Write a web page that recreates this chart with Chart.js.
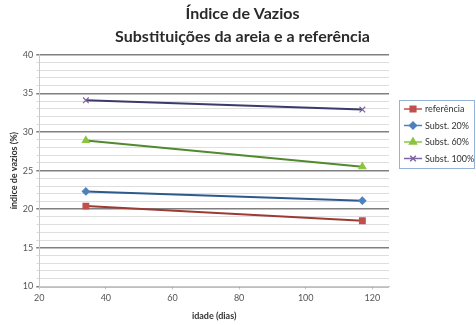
<!DOCTYPE html>
<html>
<head>
<meta charset="utf-8">
<script src="https://cdn.jsdelivr.net/npm/chart.js@4"></script>
<style>
  html, body { margin: 0; padding: 0; background: #fff; }
  #wrap { width: 476px; height: 325px; position: relative; }
</style>
</head>
<body>
<div id="wrap"><canvas id="myChart" width="476" height="325"></canvas></div>
<script>
// idade (dias) das medições
const idades = [34, 117]
// indice de vazios (%) por série
const referencia = [20.4, 18.5]
const subst20 = [22.3, 21.1]
const subst60 = [28.9, 25.5]
const subst100 = [34.1, 32.9]
const nomes = ['referência', 'Subst. 20%', 'Subst. 60%', 'Subst. 100%']
const xTicks = [20, 40, 60, 80, 100, 120]
const yTicks = [10, 15, 20, 25, 30, 35, 40]

const fonte = 'Lato, "Open Sans", sans-serif'

function pontos(valores) {
  return idades.map((x, i) => ({ x: x, y: valores[i] }))
}

const series = [
  { data: referencia, line: '#9a3c34', fill: '#c0504d', style: 'rect', r: 4 },
  { data: subst20, line: '#2c5a8c', fill: '#4f81bd', style: 'rectRot', r: 3.5 },
  { data: subst60, line: '#4f8a2c', fill: '#8cc43f', style: 'triangle', r: 4 },
  { data: subst100, line: '#3b3a6b', fill: '#8064a2', style: 'crossRot', r: 4 }
]

// legenda desenhada à mão (caixa à direita)
const legendaPlugin = {
  id: 'legenda',
  afterDraw(chart) {
    const ctx = chart.ctx
    ctx.save()
    ctx.strokeStyle = '#95b3d7'
    ctx.lineWidth = 1
    ctx.strokeRect(399.5, 100.5, 75, 68)
    ctx.font = '9px ' + fonte
    ctx.textBaseline = 'middle'
    series.forEach((s, i) => {
      const y = 109 + i * 16.5
      ctx.strokeStyle = s.fill
      ctx.fillStyle = s.fill
      ctx.lineWidth = 1.5
      ctx.beginPath()
      ctx.moveTo(404, y)
      ctx.lineTo(422, y)
      ctx.stroke()
      Chart.helpers.drawPoint(ctx, {
        pointStyle: s.style, radius: s.r, borderWidth: 1.2, rotation: 0
      }, 413, y)
      ctx.fillStyle = '#333'
      ctx.fillText(nomes[i], 425, y + 0.5)
    })
    ctx.restore()
  }
}

new Chart(document.getElementById('myChart'), {
  type: 'line',
  data: {
    datasets: series.map((s, i) => ({
      label: nomes[i],
      data: pontos(s.data),
      borderColor: s.line,
      borderWidth: 2,
      backgroundColor: s.fill,
      pointBackgroundColor: s.fill,
      pointBorderColor: s.fill,
      pointStyle: s.style,
      pointRadius: s.r,
      pointBorderWidth: 1.2,
      tension: 0
    }))
  },
  plugins: [legendaPlugin],
  options: {
    responsive: false,
    animation: false,
    layout: { padding: { left: 9, right: 0, top: 2, bottom: 4 } },
    plugins: {
      legend: { display: false },
      tooltip: { enabled: false },
      title: {
        display: true,
        text: ['Índice de Vazios', 'Substituições da areia e a referência'],
        font: { family: fonte, size: 16, weight: 'bold', lineHeight: 1.4 },
        color: '#2a2a2a',
        padding: { top: 1, bottom: 7 }
      }
    },
    scales: {
      x: {
        type: 'linear',
        min: 20,
        max: 125,
        afterBuildTicks: (scale) => {
          scale.ticks = xTicks.map(v => ({ value: v }))
        },
        ticks: { color: '#555', font: { family: fonte, size: 9 }, padding: 3, maxRotation: 0 },
        grid: { drawOnChartArea: false, drawTicks: true, tickLength: 3, color: '#c8c8c8' },
        border: { color: '#c8c8c8' },
        title: {
          display: true, text: 'idade (dias)', color: '#333',
          font: { family: fonte, size: 9, weight: 'bold' }, padding: { top: 4, bottom: 0 }
        }
      },
      y: {
        min: 10,
        max: 40,
        afterBuildTicks: (scale) => {
          const t = []
          for (let v = 10; v <= 40; v++) t.push({ value: v })
          scale.ticks = t
        },
        ticks: {
          autoSkip: false,
          color: '#555',
          font: { family: fonte, size: 9 },
          padding: 3,
          callback: (v) => yTicks.includes(v) ? v : ''
        },
        grid: {
          color: (c) => yTicks.includes(c.tick && c.tick.value) ? '#808080' : '#dedede',
          lineWidth: (c) => yTicks.includes(c.tick && c.tick.value) ? 1.5 : 1,
          tickLength: 3
        },
        border: { color: '#c8c8c8' },
        title: {
          display: true, text: 'índice de vazios (%)', color: '#333',
          font: { family: fonte, size: 9, weight: 'bold' }, padding: { top: 0, bottom: 0 }
        }
      },
      // eixo vazio só para reservar o espaço da legenda
      espaco: {
        type: 'linear',
        position: 'right',
        display: true,
        ticks: { display: false },
        grid: { display: false },
        border: { display: false },
        afterFit: (scale) => { scale.width = 87 }
      }
    }
  }
})
</script>
</body>
</html>
